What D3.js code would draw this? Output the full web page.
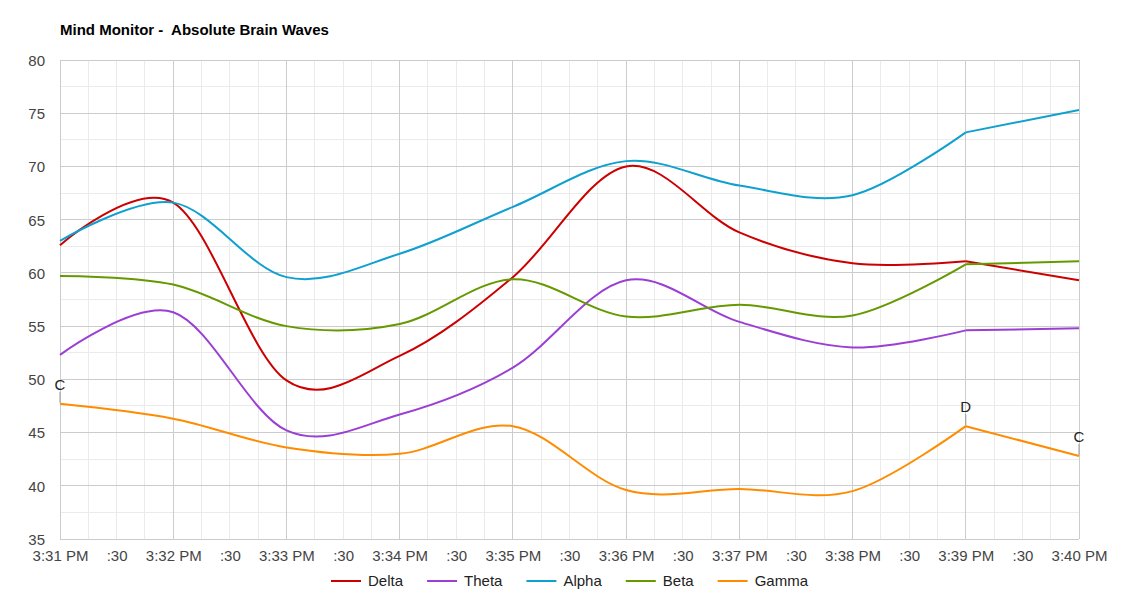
<!DOCTYPE html>
<html><head><meta charset="utf-8">
<script src="https://cdn.jsdelivr.net/npm/d3@7"></script>
<style>
body{margin:0;background:#fff;}
svg{display:block;font-family:Arial,"Liberation Sans",sans-serif;}
</style></head>
<body><svg id="chart" width="1140" height="600"></svg>
<script>
const title = "Mind Monitor -  Absolute Brain Waves";
const minutes = [31,32,33,34,35,36,37,38,39,40];
const seriesNames = ["Delta","Theta","Alpha","Beta","Gamma"];
const delta = [62.6, 66.6, 49.9, 52.2, 59.6, 70.0, 63.8, 60.9, 61.1, 59.3];
const theta = [52.3, 56.3, 45.2, 46.7, 51.1, 59.3, 55.4, 53.0, 54.6, 54.8];
const alpha = [63.0, 66.6, 59.6, 61.8, 66.2, 70.5, 68.2, 67.3, 73.2, 75.3];
const beta  = [59.7, 58.9, 55.0, 55.2, 59.4, 55.9, 57.0, 56.0, 60.8, 61.1];
const gamma = [47.7, 46.3, 43.6, 43.0, 45.6, 39.6, 39.7, 39.5, 45.6, 42.8];
const colors = ["#cc0000","#9b3fd4","#0fa0d0","#669900","#ff8c00"];
const yTicks = [35,40,45,50,55,60,65,70,75,80];
const annotationIndex = [0, 8, 9];
const annotationText = ["C","D","C"];

const svg = d3.select("#chart");
const L = 60, R = 1079, T = 60, B = 539;
const toDate = m => new Date(2020, 0, 1, 15, m, 0);
const x = d3.scaleTime().domain([toDate(31), toDate(40)]).range([L, R]);
const y = d3.scaleLinear().domain([35, 80]).range([B, T]);

// minor grid
const minorX = d3.timeSecond.every(15).range(toDate(31), new Date(+toDate(40)+1));
svg.append("g").selectAll("line").data(minorX.filter(d => d.getSeconds() !== 0))
  .join("line").attr("x1", d => x(d)).attr("x2", d => x(d)).attr("y1", T).attr("y2", B)
  .attr("stroke", "#ebebeb").attr("shape-rendering","crispEdges");
const minorY = d3.range(37.5, 80, 5);
svg.append("g").selectAll("line").data(minorY).join("line")
  .attr("x1", L).attr("x2", R).attr("y1", d => y(d)).attr("y2", d => y(d))
  .attr("stroke", "#ebebeb").attr("shape-rendering","crispEdges");
// major grid
svg.append("g").selectAll("line").data(minutes.map(toDate)).join("line")
  .attr("x1", d => x(d)).attr("x2", d => x(d)).attr("y1", T).attr("y2", B)
  .attr("stroke", "#cccccc").attr("shape-rendering","crispEdges");
svg.append("g").selectAll("line").data(yTicks).join("line")
  .attr("x1", L).attr("x2", R).attr("y1", d => y(d)).attr("y2", d => y(d))
  .attr("stroke", "#cccccc").attr("shape-rendering","crispEdges");

// axes
const xTickVals = d3.timeSecond.every(30).range(toDate(31), new Date(+toDate(40)+1));
const fmt = d => d.getSeconds() === 0 ? d3.timeFormat("%-I:%M %p")(d) : ":30";
const xAxis = svg.append("g").attr("transform", `translate(0,${B})`)
  .call(d3.axisBottom(x).tickValues(xTickVals).tickFormat(fmt).tickSize(0).tickPadding(0));
xAxis.select(".domain").remove();
xAxis.selectAll("text").attr("y", 22).attr("dy", 0).attr("font-size", 15)
  .attr("fill", "#444").attr("font-family","Arial, 'Liberation Sans', sans-serif");

const yAxis = svg.append("g").attr("transform", `translate(${L},0)`)
  .call(d3.axisLeft(y).tickValues(yTicks).tickFormat(d3.format("d")).tickSize(0).tickPadding(15));
yAxis.select(".domain").remove();
yAxis.selectAll("text").attr("font-size", 15).attr("fill", "#444").attr("dy","0.36em")
  .attr("font-family","Arial, 'Liberation Sans', sans-serif");

// title
svg.append("text").attr("x", L).attr("y", 35).attr("font-size", 15).attr("font-weight","bold")
  .attr("fill", "#000").attr("xml:space","preserve").style("white-space","pre").text(title);

// series
const allSeries = [delta, theta, alpha, beta, gamma];
const curveLine = d3.line().x(d => x(toDate(d[0]))).y(d => y(d[1])).curve(d3.curveCatmullRom.alpha(0));
const straightLine = d3.line().x(d => x(toDate(d[0]))).y(d => y(d[1]));
allSeries.forEach((vals, i) => {
  const pts = minutes.map((m, j) => [m, vals[j]]);
  const g = svg.append("g");
  g.append("path").attr("d", curveLine(pts.slice(0, 9))).attr("fill","none")
    .attr("stroke", colors[i]).attr("stroke-width", 2);
  g.append("path").attr("d", straightLine(pts.slice(8))).attr("fill","none")
    .attr("stroke", colors[i]).attr("stroke-width", 2);
});

// annotations on gamma
annotationIndex.forEach((idx, k) => {
  const px = x(toDate(minutes[idx])), py = y(gamma[idx]);
  svg.append("line").attr("x1", px).attr("x2", px).attr("y1", py - 1).attr("y2", py - 12)
    .attr("stroke", "#999").attr("stroke-width", 1);
  svg.append("text").attr("x", px).attr("y", py - 14).attr("text-anchor","middle")
    .attr("font-size", 15).attr("fill", "#222").text(annotationText[k]);
});

// legend
const leg = svg.append("g");
let cx = 0;
seriesNames.forEach((name, i) => {
  const g = leg.append("g");
  g.append("line").attr("x1", 0).attr("x2", 30).attr("y1", 0).attr("y2", 0)
    .attr("stroke", colors[i]).attr("stroke-width", 2);
  const t = g.append("text").attr("x", 37).attr("y", 5).attr("font-size", 15).attr("fill", "#222").text(name);
  const w = 37 + t.node().getComputedTextLength();
  g.attr("transform", `translate(${cx},581)`);
  cx += w + 24;
});
const total = cx - 24;
leg.attr("transform", `translate(${(L + R) / 2 - total / 2},0)`);
</script></body></html>
